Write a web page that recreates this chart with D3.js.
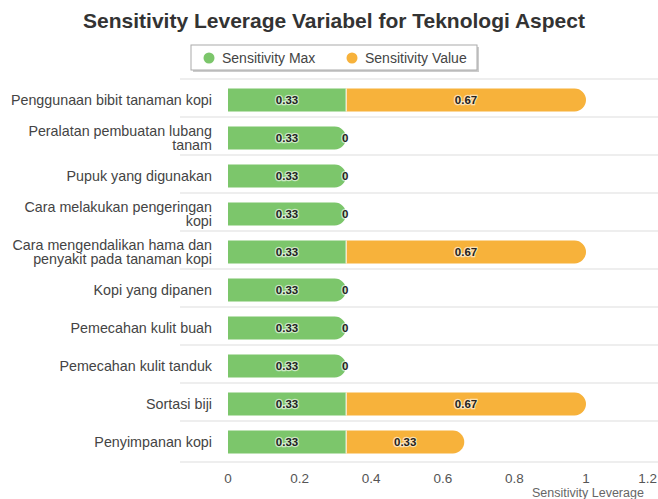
<!DOCTYPE html>
<html>
<head>
<meta charset="utf-8">
<script src="https://cdn.jsdelivr.net/npm/d3@7"></script>
<style>
  body { margin: 0; background: #fff; }
  svg text { font-family: "Liberation Sans", Arial, sans-serif; }
</style>
</head>
<body>
<svg id="chart" width="658" height="499"></svg>
<script>
// data
var categories = [
	"Penggunaan bibit tanaman kopi",
	"Peralatan pembuatan lubang tanam",
	"Pupuk yang digunakan",
	"Cara melakukan pengeringan kopi",
	"Cara mengendalikan hama dan penyakit pada tanaman kopi",
	"Kopi yang dipanen",
	"Pemecahan kulit buah",
	"Pemecahan kulit tanduk",
	"Sortasi biji",
	"Penyimpanan kopi"
];
var sensitivityMax = [0.33, 0.33, 0.33, 0.33, 0.33, 0.33, 0.33, 0.33, 0.33, 0.33];
var sensitivityValue = [0.67, 0, 0, 0, 0.67, 0, 0, 0, 0.67, 0.33];
var seriesNames = ["Sensitivity Max", "Sensitivity Value"];
var seriesColors = ["#7cc66b", "#f7b23b"];
var xTicks = [0, 0.2, 0.4, 0.6, 0.8, 1, 1.2];

var svg = d3.select("svg#chart"),
    margin = {left: 228, right: 0, top: 80, bottom: 38},
    W = +svg.attr("width"),
    H = +svg.attr("height");

var x = d3.scaleLinear()
	.domain([0, 1.2])
	.range([margin.left, W - 0.4]);

var y = d3.scaleBand()
	.domain(categories)
	.range([margin.top + 1, H - margin.bottom])
	.paddingInner(0.4)
	.paddingOuter(0.2);

// title
svg.append("text")
	.attr("x", 334)
	.attr("y", 28)
	.attr("text-anchor", "middle")
	.attr("font-size", "21px")
	.attr("font-weight", "bold")
	.attr("fill", "#333")
	.text("Sensitivity Leverage Variabel for Teknologi Aspect");

// legend
var legend = svg.append("g").attr("class", "legend");
legend.append("rect")
	.attr("x", 193).attr("y", 47)
	.attr("width", 286).attr("height", 25)
	.attr("fill", "#999").attr("opacity", 0.5);
legend.append("rect")
	.attr("x", 191).attr("y", 45)
	.attr("width", 286).attr("height", 25)
	.attr("fill", "#fff")
	.attr("stroke", "#aaa");

var legendX = [209, 352];
seriesNames.forEach(function(name, i) {
	legend.append("circle")
		.attr("cx", legendX[i]).attr("cy", 58).attr("r", 5.5)
		.attr("fill", seriesColors[i]);
	legend.append("text")
		.attr("x", legendX[i] + 13).attr("y", 63)
		.attr("font-size", "14px")
		.attr("fill", "#444")
		.text(name);
});

// horizontal grid lines between categories
var step = y.step();
var gridY = categories.map(function(c) { return y(c) - y.paddingInner() * step / 2 - 2; });
gridY.push(y(categories[categories.length - 1]) + y.bandwidth() + y.paddingInner() * step / 2 + 1);
svg.append("g")
	.attr("class", "grid")
  .selectAll("line")
  .data(gridY)
  .enter().append("line")
	.attr("x1", 180).attr("x2", W)
	.attr("y1", function(d) { return d; })
	.attr("y2", function(d) { return d; })
	.attr("stroke", "#e8e8e8")
	.attr("stroke-width", 1.5);

// category labels with wrapping
function wrap(text, width) {
	text.each(function() {
		var t = d3.select(this),
		    words = t.text().split(/\s+/),
		    lines = [], line = [];
		t.text(null);
		var tmp = t.append("tspan");
		words.forEach(function(w) {
			line.push(w);
			tmp.text(line.join(" "));
			if (tmp.node().getComputedTextLength() > width && line.length > 1) {
				line.pop();
				lines.push(line.join(" "));
				line = [w];
			}
		});
		lines.push(line.join(" "));
		tmp.remove();
		var lh = 14.5, y0 = +t.attr("y") - (lines.length - 1) * lh / 2;
		lines.forEach(function(l, i) {
			t.append("tspan").attr("x", t.attr("x")).attr("y", y0 + i * lh).text(l);
		});
	});
}

svg.append("g")
	.attr("class", "labels")
  .selectAll("text")
  .data(categories)
  .enter().append("text")
	.attr("x", 212)
	.attr("y", function(d) { return y(d) + y.bandwidth() / 2 + 5; })
	.attr("text-anchor", "end")
	.attr("font-size", "14.3px")
	.attr("fill", "#444")
	.text(function(d) { return d; })
	.call(wrap, 206);

// stacked bars
var rows = categories.map(function(c, i) {
	return {cat: c, vals: [sensitivityMax[i], sensitivityValue[i]]};
});

function segPath(x0, x1, top, h, rounded) {
	if (!rounded) return "M" + x0 + "," + top + "H" + x1 + "V" + (top + h) + "H" + x0 + "Z";
	var r = Math.min(h / 2, x1 - x0);
	return "M" + x0 + "," + top +
		"H" + (x1 - r) +
		"A" + r + "," + r + " 0 0 1 " + x1 + "," + (top + r) +
		"V" + (top + h - r) +
		"A" + r + "," + r + " 0 0 1 " + (x1 - r) + "," + (top + h) +
		"H" + x0 + "Z";
}

var bars = svg.append("g").attr("class", "bars");
var labelsG = svg.append("g").attr("class", "values");

rows.forEach(function(row) {
	var start = 0;
	var lastIdx = row.vals[1] > 0 ? 1 : 0;
	row.vals.forEach(function(v, i) {
		var x0 = x(start), x1 = x(start + v);
		if (v > 0) {
			bars.append("path")
				.attr("d", segPath(x0, x1, y(row.cat), y.bandwidth(), i === lastIdx))
				.attr("fill", seriesColors[i]);
			if (i === 1) {
				bars.append("line")
					.attr("x1", x0).attr("x2", x0)
					.attr("y1", y(row.cat)).attr("y2", y(row.cat) + y.bandwidth())
					.attr("stroke", "#fff").attr("stroke-width", 1);
			}
		}
		labelsG.append("text")
			.attr("x", (x0 + x1) / 2 - (v > 0 ? 0 : 1))
			.attr("y", y(row.cat) + y.bandwidth() / 2 + 4)
			.attr("text-anchor", "middle")
			.attr("font-size", "11.5px")
			.attr("font-weight", "bold")
			.attr("fill", "#222")
			.attr("stroke", "#fff")
			.attr("stroke-width", 2.5)
			.attr("stroke-opacity", 0.6)
			.attr("paint-order", "stroke")
			.text(d3.format("~g")(v));
		start += v;
	});
});

// x axis labels
var axis = svg.append("g").attr("class", "axisx");
axis.selectAll("text")
	.data(xTicks)
  .enter().append("text")
	.attr("x", function(d, i) { return i === xTicks.length - 1 ? W - 1 : x(d); })
	.attr("y", 483)
	.attr("text-anchor", function(d, i) { return i === xTicks.length - 1 ? "end" : "middle"; })
	.attr("font-size", "13.5px")
	.attr("fill", "#555")
	.text(function(d) { return d; });

svg.append("text")
	.attr("x", 532)
	.attr("y", 497)
	.attr("font-size", "12.5px")
	.attr("fill", "#666")
	.text("Sensitivity Leverage");
</script>
</body>
</html>
